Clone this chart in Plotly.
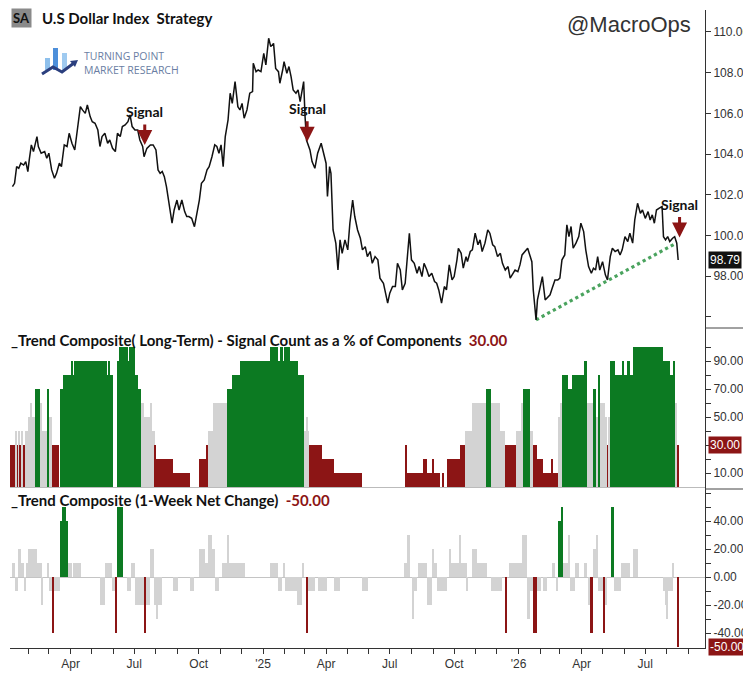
import pandas as pd
import plotly.graph_objects as go
from plotly.subplots import make_subplots

# ---------------------------------------------------------------------------
# Data
# ---------------------------------------------------------------------------

price_dates = [
    "2024-01-09", "2024-01-12", "2024-01-15", "2024-01-18", "2024-01-21", "2024-01-25", "2024-01-28", "2024-01-31",
    "2024-02-02", "2024-02-05", "2024-02-08", "2024-02-13", "2024-02-15", "2024-02-19", "2024-02-24", "2024-02-27",
    "2024-03-01", "2024-03-05", "2024-03-09", "2024-03-12", "2024-03-16", "2024-03-19", "2024-03-23", "2024-03-27",
    "2024-03-30", "2024-04-03", "2024-04-07", "2024-04-11", "2024-04-15", "2024-04-18", "2024-04-22", "2024-04-25",
    "2024-04-29", "2024-05-02", "2024-05-06", "2024-05-10", "2024-05-13", "2024-05-16", "2024-05-20", "2024-05-24",
    "2024-05-27", "2024-05-31", "2024-06-04", "2024-06-07", "2024-06-11", "2024-06-14", "2024-06-18", "2024-06-22",
    "2024-06-25", "2024-06-28", "2024-07-02", "2024-07-06", "2024-07-09", "2024-07-13", "2024-07-15", "2024-07-19",
    "2024-07-24", "2024-07-28", "2024-08-01", "2024-08-04", "2024-08-07", "2024-08-10", "2024-08-13", "2024-08-16",
    "2024-08-20", "2024-08-24", "2024-08-27", "2024-08-31", "2024-09-03", "2024-09-07", "2024-09-11", "2024-09-14",
    "2024-09-17", "2024-09-21", "2024-09-25", "2024-09-28", "2024-10-02", "2024-10-05", "2024-10-09", "2024-10-13",
    "2024-10-16", "2024-10-20", "2024-10-24", "2024-10-27", "2024-10-30", "2024-11-02", "2024-11-05", "2024-11-08",
    "2024-11-12", "2024-11-15", "2024-11-18", "2024-11-22",
    "2024-11-26", "2024-11-29", "2024-12-02", "2024-12-05", "2024-12-09", "2024-12-13", "2024-12-17", "2024-12-18",
    "2024-12-22", "2024-12-25", "2024-12-29", "2025-01-02", "2025-01-05", "2025-01-09", "2025-01-12", "2025-01-16",
    "2025-01-19", "2025-01-23", "2025-01-25", "2025-01-29", "2025-01-31", "2025-02-04", "2025-02-07", "2025-02-10",
    "2025-02-13", "2025-02-17", "2025-02-20", "2025-02-23", "2025-02-28", "2025-03-02", "2025-03-04", "2025-03-09",
    "2025-03-12", "2025-03-16", "2025-03-20", "2025-03-25", "2025-03-28", "2025-04-01", "2025-04-03", "2025-04-06",
    "2025-04-08", "2025-04-11", "2025-04-15", "2025-04-18", "2025-04-21", "2025-04-24", "2025-04-28", "2025-05-02",
    "2025-05-05", "2025-05-09", "2025-05-12", "2025-05-16", "2025-05-20", "2025-05-23", "2025-05-27", "2025-05-30",
    "2025-06-03", "2025-06-06", "2025-06-10", "2025-06-14", "2025-06-17", "2025-06-22", "2025-06-25", "2025-06-28",
    "2025-07-01", "2025-07-05", "2025-07-09", "2025-07-12", "2025-07-16", "2025-07-19", "2025-07-23", "2025-07-27",
    "2025-07-29", "2025-08-01", "2025-08-05", "2025-08-09", "2025-08-12", "2025-08-16", "2025-08-19", "2025-08-23",
    "2025-08-26", "2025-08-30", "2025-09-03", "2025-09-06", "2025-09-09", "2025-09-13", "2025-09-17", "2025-09-20",
    "2025-09-24", "2025-09-28", "2025-10-01", "2025-10-05", "2025-10-07", "2025-10-11", "2025-10-14", "2025-10-18",
    "2025-10-20", "2025-10-24", "2025-10-27", "2025-10-31", "2025-11-04", "2025-11-07", "2025-11-10", "2025-11-14",
    "2025-11-18", "2025-11-21", "2025-11-25", "2025-11-28", "2025-12-02", "2025-12-06", "2025-12-09", "2025-12-13",
    "2025-12-17", "2025-12-20", "2025-12-23", "2025-12-27", "2025-12-31", "2026-01-03", "2026-01-06", "2026-01-10",
    "2026-01-14", "2026-01-17", "2026-01-20", "2026-01-22", "2026-01-26", "2026-01-28", "2026-02-01", "2026-02-04",
    "2026-02-08", "2026-02-12", "2026-02-15", "2026-02-18", "2026-02-22", "2026-02-26", "2026-03-01", "2026-03-04",
    "2026-03-08", "2026-03-11", "2026-03-14", "2026-03-17", "2026-03-20", "2026-03-24", "2026-03-28", "2026-03-31",
    "2026-04-04", "2026-04-07", "2026-04-11", "2026-04-15", "2026-04-18", "2026-04-21", "2026-04-24", "2026-04-27",
    "2026-05-01", "2026-05-05", "2026-05-08", "2026-05-12", "2026-05-15", "2026-05-19", "2026-05-23", "2026-05-26",
    "2026-05-29", "2026-06-02", "2026-06-06", "2026-06-09", "2026-06-13", "2026-06-16", "2026-06-20", "2026-06-24",
    "2026-06-27", "2026-07-01", "2026-07-05", "2026-07-08", "2026-07-11", "2026-07-14", "2026-07-17", "2026-07-21",
    "2026-07-25", "2026-07-27", "2026-07-30", "2026-08-02", "2026-08-05", "2026-08-09", "2026-08-12", "2026-08-15",
    "2026-08-17",
]
price_values = [
    102.40, 102.56, 103.38, 103.30, 103.55, 103.46, 103.63, 103.14,
    103.71, 104.45, 104.12, 104.86, 104.37, 104.04, 104.12, 103.79,
    104.04, 103.22, 102.81, 103.05, 103.55, 103.38, 104.45, 104.37,
    105.02, 104.53, 104.20, 105.18, 106.33, 106.17, 106.00, 106.41,
    105.84, 105.59, 105.51, 105.18, 104.37, 104.86, 105.02, 104.53,
    104.69, 104.28, 104.12, 105.02, 104.86, 105.35, 105.43, 105.59,
    105.92, 105.35, 105.18, 105.18, 104.69, 104.37, 103.87, 104.28,
    104.45, 104.45, 104.20, 103.22, 103.05, 103.14, 102.89, 102.40,
    101.58, 100.60, 101.25, 101.74, 101.25, 101.74, 101.17, 100.93,
    100.93, 100.84, 100.43, 100.93, 101.74, 102.56, 102.73, 103.22,
    103.38, 103.87, 104.45, 104.37, 104.04, 104.45, 103.38, 104.86,
    105.68, 106.99, 106.49, 107.56,
    106.33, 106.17, 106.49, 105.76, 106.17, 106.99, 107.07, 108.46,
    108.05, 108.13, 108.05, 108.95, 108.38, 109.69, 109.28, 109.44,
    108.21, 108.05, 107.48, 108.13, 108.54, 107.97, 108.30, 107.81,
    107.15, 106.99, 107.15, 106.58, 107.56, 105.84, 104.69, 104.20,
    103.63, 103.30, 104.04, 104.53, 104.12, 103.55, 101.91, 103.38,
    103.05, 100.27, 99.61, 98.30, 99.78, 99.12, 99.78, 99.29,
    100.60, 101.74, 100.93, 100.27, 99.86, 99.29, 99.45, 98.96,
    99.21, 98.63, 98.96, 98.80, 97.90, 97.65, 97.16, 96.67,
    97.16, 97.49, 97.49, 98.63, 98.30, 97.32, 97.65, 99.61,
    100.11, 98.80, 98.63, 98.14, 98.47, 97.98, 98.63, 98.30,
    97.98, 98.14, 97.73, 97.65, 97.32, 96.67, 97.49, 97.32,
    98.55, 97.81, 97.98, 98.80, 99.37, 99.12, 98.39, 98.96,
    98.71, 99.21, 99.29, 100.11, 99.54, 99.78, 99.21, 99.62,
    100.27, 100.11, 99.54, 99.45, 98.96, 99.12, 98.63, 98.30,
    98.47, 97.90, 98.06, 98.30, 98.22, 98.55, 99.04, 99.21,
    99.37, 99.04, 98.71, 97.32, 95.85, 96.83, 97.49, 97.98,
    96.83, 96.99, 97.08, 97.40, 97.81, 97.81, 97.90, 98.80,
    99.04, 100.52, 99.94, 100.44, 99.37, 99.62, 99.94, 100.60,
    100.19, 99.29, 98.47, 98.14, 98.39, 98.30, 98.96, 98.30,
    98.71, 98.06, 97.81, 98.96, 99.37, 99.21, 99.29, 99.04,
    99.29, 99.94, 99.70, 100.11, 99.62, 100.76, 101.58, 101.09,
    101.25, 100.84, 101.17, 100.76, 101.01, 100.60, 101.25, 101.34,
    101.42, 99.94, 99.78, 99.94, 99.70, 99.86, 99.94, 99.62,
    98.79,
]
last_price = 98.79

# long-term composite: each value holds from its start date to the next start
lt_starts = [
    "2024-01-05", "2024-01-14", "2024-01-15", "2024-01-18", "2024-01-19", "2024-01-22", "2024-01-24", "2024-01-27",
    "2024-02-01", "2024-02-03", "2024-02-06", "2024-02-10", "2024-02-18", "2024-02-20", "2024-02-27", "2024-03-01",
    "2024-03-05", "2024-03-15", "2024-03-17", "2024-03-21", "2024-04-03", "2024-04-04", "2024-04-06", "2024-05-23",
    "2024-05-24", "2024-05-27", "2024-05-31", "2024-06-06", "2024-06-09", "2024-06-22", "2024-06-23", "2024-06-26",
    "2024-06-27", "2024-07-02", "2024-07-06", "2024-07-10", "2024-07-15", "2024-07-23", "2024-07-27", "2024-07-30",
    "2024-08-01", "2024-08-25", "2024-09-18", "2024-10-01", "2024-10-11", "2024-10-14", "2024-10-21", "2024-11-10",
    "2024-11-17", "2024-11-29", "2025-01-11", "2025-01-23", "2025-01-25", "2025-01-29", "2025-01-31", "2025-02-08",
    "2025-02-20", "2025-02-25", "2025-02-27", "2025-02-28", "2025-03-03", "2025-03-06", "2025-03-07", "2025-03-26",
    "2025-04-12", "2025-05-23", "2025-07-24", "2025-07-25", "2025-08-17", "2025-08-23", "2025-08-30", "2025-09-02",
    "2025-09-11", "2025-09-14", "2025-09-17", "2025-09-21", "2025-10-10", "2025-10-17", "2025-10-27", "2025-11-16",
    "2025-11-22", "2025-12-06", "2025-12-13", "2025-12-15", "2025-12-16", "2025-12-28", "2026-01-04", "2026-01-08",
    "2026-01-18", "2026-01-21", "2026-01-28", "2026-02-05", "2026-02-17", "2026-02-18", "2026-02-26", "2026-03-02",
    "2026-03-04", "2026-03-12", "2026-03-19", "2026-04-04", "2026-04-09", "2026-04-18", "2026-04-22", "2026-04-24",
    "2026-04-28", "2026-05-05", "2026-05-08", "2026-05-09", "2026-05-12", "2026-05-19", "2026-05-29", "2026-05-31",
    "2026-06-05", "2026-06-09", "2026-06-13", "2026-07-26", "2026-08-05", "2026-08-09", "2026-08-12", "2026-08-15",
]
lt_values = [
    30, 40, 30, 40, 30, 40, 30, 40, 50, 60,
    50, 70, 60, 40, 70, 50, 30, 0, 70, 80,
    90, 80, 90, 80, 90, 80, 0, 90, 100, 90,
    100, 90, 100, 80, 70, 60, 50, 60, 40, 30,
    20, 10, 0, 20, 30, 40, 60, 70, 80, 90,
    100, 90, 100, 90, 100, 90, 80, 70, 80, 40,
    50, 40, 30, 20, 10, 0, 30, 10, 20, 10,
    20, 10, 0, 10, 0, 20, 30, 40, 60, 70,
    60, 40, 30, 20, 30, 40, 60, 70, 40, 30,
    20, 10, 20, 10, 50, 60, 80, 70, 80, 90,
    60, 70, 50, 80, 60, 50, 30, 50, 90, 80,
    90, 80, 90, 80, 100, 90, 80, 90, 60, 30,
]
lt_end = "2026-08-18"
lt_last = 30.00

# 1-week net change
wk_starts = [
    "2024-01-05", "2024-01-09", "2024-01-12", "2024-01-17", "2024-01-21", "2024-01-25", "2024-01-28", "2024-01-31",
    "2024-02-13", "2024-02-20", "2024-02-21", "2024-02-27", "2024-03-01", "2024-03-06", "2024-03-09", "2024-03-17",
    "2024-03-20", "2024-03-25", "2024-03-29", "2024-04-03", "2024-04-04", "2024-04-16", "2024-05-13", "2024-05-20",
    "2024-05-30", "2024-06-04", "2024-06-06", "2024-06-15", "2024-06-20", "2024-06-27", "2024-07-02", "2024-07-15",
    "2024-07-18", "2024-07-23", "2024-07-29", "2024-08-02", "2024-08-04", "2024-08-09", "2024-08-25", "2024-09-01",
    "2024-09-18", "2024-09-25", "2024-10-01", "2024-10-10", "2024-10-15", "2024-10-20", "2024-10-25", "2024-10-30",
    "2024-11-04", "2024-11-10", "2024-11-14", "2024-12-06", "2025-01-11", "2025-01-22", "2025-01-28", "2025-01-29",
    "2025-02-02", "2025-02-18", "2025-02-25", "2025-02-28", "2025-03-04", "2025-03-06", "2025-03-16", "2025-03-20",
    "2025-04-02", "2025-04-13", "2025-04-21", "2025-05-23", "2025-05-31", "2025-07-22", "2025-07-25", "2025-07-30",
    "2025-08-03", "2025-08-04", "2025-08-09", "2025-08-10", "2025-08-23", "2025-08-30", "2025-09-02", "2025-09-07",
    "2025-09-21", "2025-09-24", "2025-09-27", "2025-10-09", "2025-10-11", "2025-10-19", "2025-10-20", "2025-10-27",
    "2025-11-02", "2025-11-17", "2025-11-22", "2025-12-09", "2025-12-13", "2025-12-15", "2025-12-19", "2026-01-06",
    "2026-01-13", "2026-01-18", "2026-01-21", "2026-01-28", "2026-02-02", "2026-02-05", "2026-02-10", "2026-02-18",
    "2026-02-22", "2026-02-23", "2026-02-26", "2026-03-02", "2026-03-05", "2026-03-12", "2026-03-15", "2026-03-22",
    "2026-03-29", "2026-04-04", "2026-04-09", "2026-04-10", "2026-04-13", "2026-04-18", "2026-04-22", "2026-04-24",
    "2026-05-03", "2026-05-05", "2026-05-08", "2026-05-13", "2026-05-17", "2026-05-28", "2026-06-09", "2026-06-13",
    "2026-06-20", "2026-07-26", "2026-07-29", "2026-08-01", "2026-08-02", "2026-08-09", "2026-08-11", "2026-08-15",
]
wk_values = [
    0, 10, -10, 20, 10, -10, 10, 20,
    10, -20, 0, 10, -10, -40, -10, 40,
    50, 40, 10, 0, 10, 0, -20, 10,
    -10, -40, 50, 0, -10, 10, -20, -40,
    -20, 20, -20, -30, -20, 0, -10, 0,
    -10, 0, 20, 10, 30, 20, -10, 0,
    10, 30, 10, 0, 10, -10, 0, 10,
    -10, -20, 10, 0, -40, -10, 0, -10,
    0, -10, 0, -10, 0, 10, 30, 0,
    -30, -10, 0, 10, -20, 20, 10, -10,
    0, 20, 10, 30, 10, -10, 0, 20,
    10, 0, -10, 0, -40, 0, 10, 30,
    -30, -10, -40, -10, 0, -10, 0, 10,
    0, -10, 40, 50, 10, 30, -10, 10,
    0, 10, 0, -20, -40, 20, 30, -10,
    -40, -20, 0, 50, -10, 10, 0, 20,
    0, -10, -20, -30, -10, 10, 0, -50,
]
wk_end = "2026-08-18"
wk_last = -50.00

signal_dates = ["2024-07-16", "2025-03-05", "2026-08-19"]
signal_levels = [104.45, 104.6, 99.9]

trend_dates = ["2026-01-26", "2026-08-13"]
trend_values = [95.85, 99.6]

# ---------------------------------------------------------------------------
# Styling
# ---------------------------------------------------------------------------

GREEN = "#0c7a22"
RED = "#8c1515"
GREY = "#d3d3d3"
AXIS_FONT = dict(family="Liberation Sans, Arial, sans-serif", size=12, color="#333333")
BOLD = "Lato, 'Open Sans', sans-serif"

# the page body keeps its default 8px margin, so the figure is drawn 8px in
PAGE_PAD = 8
W, H = 751 - PAGE_PAD, 675 - PAGE_PAD
M = dict(l=2, r=46, t=2, b=27)


def paper(x, y):
    """Pixel position in the window -> paper coordinates."""
    x, y = x - PAGE_PAD, y - PAGE_PAD
    return (x - M["l"]) / (W - M["l"] - M["r"]), (H - M["b"] - y) / (H - M["t"] - M["b"])


def lt_color(v):
    if v >= 70:
        return GREEN
    if v >= 40:
        return GREY
    return RED


def wk_color(v):
    if v >= 40:
        return GREEN
    if v <= -40:
        return RED
    return GREY


def step_bars(starts, values, end, color_fn):
    s = pd.to_datetime(starts)
    e = list(s[1:]) + [pd.Timestamp(end)]
    widths = [(b - a).total_seconds() * 1000 for a, b in zip(s, e)]
    return go.Bar(
        x=s, y=values, width=widths, offset=0,
        marker=dict(color=[color_fn(v) for v in values], line=dict(width=0)),
        hoverinfo="skip", showlegend=False,
    )


# ---------------------------------------------------------------------------
# Figure
# ---------------------------------------------------------------------------

fig = make_subplots(rows=3, cols=1, shared_xaxes=True, vertical_spacing=0)

fig.add_trace(go.Scatter(
    x=trend_dates, y=trend_values, mode="lines",
    line=dict(color="#4aa35e", width=3.2, dash="dot"), hoverinfo="skip", showlegend=False,
), row=1, col=1)
fig.add_trace(go.Scatter(
    x=price_dates, y=price_values, mode="lines",
    line=dict(color="#111111", width=1.5), showlegend=False,
), row=1, col=1)
fig.add_trace(step_bars(lt_starts, lt_values, lt_end, lt_color), row=2, col=1)
fig.add_trace(step_bars(wk_starts, wk_values, wk_end, wk_color), row=3, col=1)

# x axis: monthly ticks, quarterly labels
months = pd.date_range("2024-02-01", "2026-09-01", freq="MS")
month_text = []
for m in months:
    if m.month == 1:
        month_text.append("'" + m.strftime("%y"))
    elif m.month in (4, 7, 10):
        month_text.append(m.strftime("%b"))
    else:
        month_text.append("")

x_range = ["2024-01-05 12:00", "2026-09-24 08:00"]
for i in (1, 2, 3):
    fig.update_xaxes(range=x_range, showgrid=False, zeroline=False, automargin=False, row=i, col=1)
fig.update_xaxes(showline=False, ticks="", showticklabels=False, row=1, col=1)
fig.update_xaxes(showline=False, ticks="", showticklabels=False, row=2, col=1)
fig.update_xaxes(
    showline=True, linecolor="#333333", linewidth=1,
    tickvals=months, ticktext=month_text, ticks="outside", ticklen=5, tickcolor="#333333",
    tickfont=AXIS_FONT, row=3, col=1,
)

y_common = dict(
    side="right", showgrid=False, showline=True, linecolor="#333333", linewidth=1,
    ticks="outside", ticklen=5, tickcolor="#333333", tickfont=AXIS_FONT, automargin=False,
)
d1, d2 = paper(0, 489)[1], paper(0, 328)[1]
fig.update_yaxes(
    domain=[d2, 1], range=[95.45, 111.08], zeroline=False,
    tickvals=list(range(96, 111, 2)),
    ticktext=[""] + [f"{v:.2f}" for v in range(98, 111, 2)],
    row=1, col=1, **y_common,
)
fig.update_yaxes(
    domain=[d1, d2], range=[-1.4, 113.6], zeroline=True, zerolinecolor="#bbbbbb", zerolinewidth=1,
    tickvals=list(range(10, 101, 10)),
    ticktext=[f"{v:.2f}" if v % 20 and v != 30 else "" for v in range(10, 101, 10)],
    row=2, col=1, **y_common,
)
fig.update_yaxes(
    domain=[0, d1], range=[-50.7, 62.9], zeroline=True, zerolinecolor="#c4c4c4", zerolinewidth=1,
    tickvals=list(range(-40, 61, 10)),
    ticktext=[f"{v:.2f}" if v % 20 == 0 and v <= 40 else "" for v in range(-40, 61, 10)],
    row=3, col=1, **y_common,
)

# separators in the axis gutter
shapes = []
for yy in (d1, d2):
    shapes.append(dict(type="line", xref="paper", yref="paper", x0=1, x1=1.07, y0=yy, y1=yy,
                       line=dict(color="#444444", width=1)))


# logo icon
def rect(x0, y0, x1, y1, color):
    a, b = paper(x0, y0)
    c, d = paper(x1, y1)
    return dict(type="rect", xref="paper", yref="paper", x0=a, y0=b, x1=c, y1=d,
                fillcolor=color, line=dict(width=0))


shapes += [
    rect(45, 58, 50, 70, "#8ec0ec"),
    rect(53, 48, 58, 70, "#4d8fda"),
    rect(62, 53, 67, 70, "#9fcaf0"),
]
pts = [paper(x, y) for x, y in [(42, 74), (53, 67), (62, 72), (74, 63)]]
shapes.append(dict(type="path", xref="paper", yref="paper",
                   path="M " + " L ".join(f"{a},{b}" for a, b in pts),
                   line=dict(color="#2b3f7e", width=3)))
tri = [paper(x, y) for x, y in [(70, 61), (78, 60), (75, 67)]]
shapes.append(dict(type="path", xref="paper", yref="paper",
                   path="M " + " L ".join(f"{a},{b}" for a, b in tri) + " Z",
                   fillcolor="#2b3f7e", line=dict(width=0)))

ann = []


def text_at(px, py, text, size, color="#111111", family=BOLD, xanchor="left", **kw):
    x, y = paper(px, py)
    ann.append(dict(xref="paper", yref="paper", x=x, y=y, text=text, showarrow=False,
                    xanchor=xanchor, yanchor="middle", font=dict(family=family, size=size, color=color), **kw))


text_at(11, 18, "<b>SA</b>", 13, color="#111111", bgcolor="#8a8a8a", borderpad=1)
text_at(40, 18, "<b>U.S Dollar Index\u00a0 Strategy</b>", 15)
text_at(82, 63, "TURNING POINT<br>MARKET RESEARCH", 10.5, color="#6a7ea3",
        family="'Open Sans', sans-serif", align="left")
text_at(629, 25, "@MacroOps", 22, color="#333333", family="Liberation Sans, Arial, sans-serif",
        xanchor="center")
text_at(9, 340, f"<b>_Trend Composite( Long-Term) - Signal Count as a % of Components\u00a0 "
                f"<span style='color:{RED}'>{lt_last:.2f}</span></b>", 15)
text_at(9, 500, f"<b>_Trend Composite (1-Week Net Change)\u00a0 "
                f"<span style='color:{RED}'>{wk_last:.2f}</span></b>", 15)

for d, lvl in zip(signal_dates, signal_levels):
    ann.append(dict(x=d, y=lvl, xref="x", yref="y", text="", showarrow=True, ax=0, ay=-22,
                    arrowhead=2, arrowsize=1, arrowwidth=3, arrowcolor=RED))
    ann.append(dict(x=d, y=lvl, xref="x", yref="y", text="<b>Signal</b>", showarrow=False,
                    yshift=33, font=dict(family=BOLD, size=14, color="#111111")))

for yref, val, bg in (("y", last_price, "#111111"), ("y2", lt_last, RED), ("y3", wk_last, RED)):
    ann.append(dict(xref="paper", yref=yref, x=1, y=val, xanchor="left", xshift=3,
                    text=f"{val:.2f}", showarrow=False, bgcolor=bg, borderpad=1,
                    font=dict(family="Liberation Sans, Arial, sans-serif", size=12, color="white")))

fig.update_layout(
    width=W, height=H, margin=M,
    paper_bgcolor="white", plot_bgcolor="white",
    barmode="overlay", bargap=0, showlegend=False,
    shapes=shapes, annotations=ann,
)

fig.write_html("out.html")
